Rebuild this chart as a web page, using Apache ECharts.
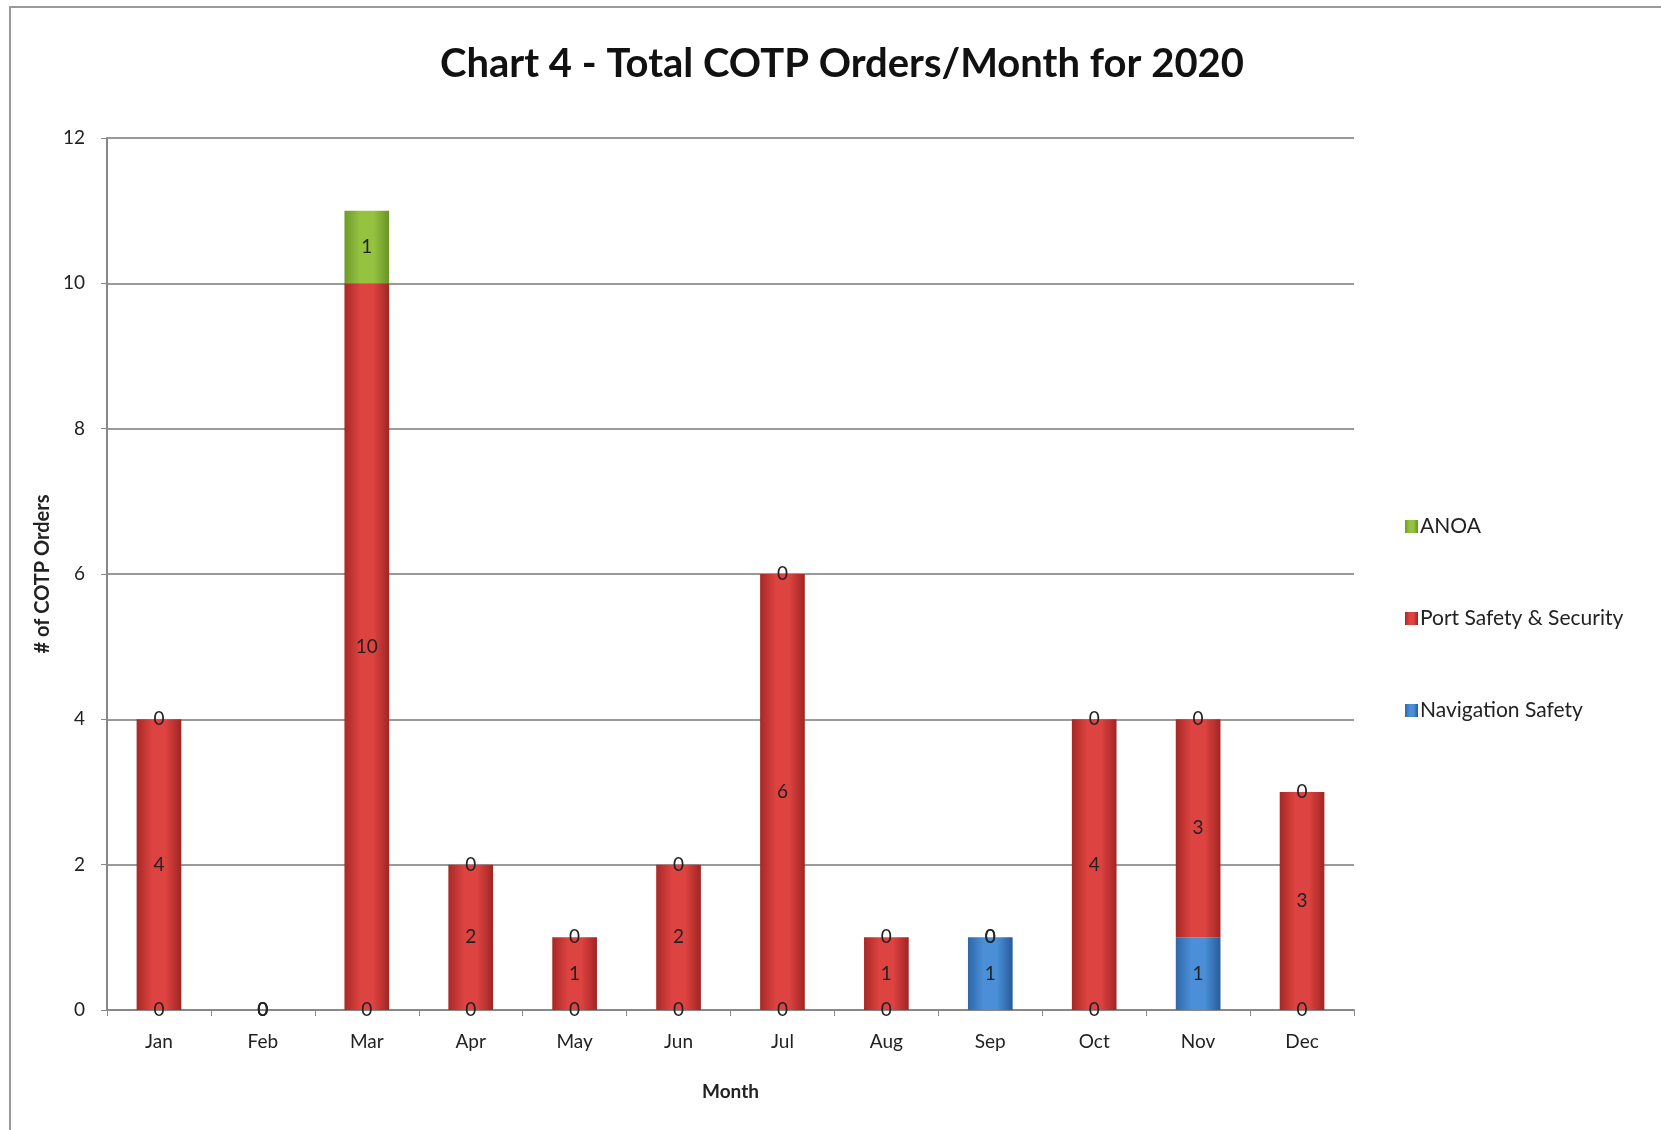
<!DOCTYPE html>
<html>
<head>
<meta charset="utf-8">
<script src="https://cdn.jsdelivr.net/npm/echarts@6/dist/echarts.min.js"></script>
<style>html,body{margin:0;padding:0;background:#fff;}#c{width:1661px;height:1130px;}</style>
</head>
<body>
<div id="c"></div>
<script>
const months = ['Jan','Feb','Mar','Apr','May','Jun','Jul','Aug','Sep','Oct','Nov','Dec'];
const navigationSafety = [0,0,0,0,0,0,0,0,1,0,1,0];
const portSafety = [4,0,10,2,1,2,6,1,0,4,3,3];
const anoa = [0,0,1,0,0,0,0,0,0,0,0,0];

const FONT = 'Lato, "Open Sans", sans-serif';
function grad(c0, c1, c2) {
  return new echarts.graphic.LinearGradient(0, 0, 1, 0, [
    {offset: 0, color: c0}, {offset: 0.35, color: c1}, {offset: 0.65, color: c1}, {offset: 1, color: c2}
  ]);
}
const labelCfg = {show: true, position: 'inside', color: '#222', fontFamily: FONT, fontSize: 19};
const chart = echarts.init(document.getElementById('c'));
chart.setOption({
  animation: false,
  backgroundColor: '#fff',
  title: {
    text: 'Chart 4 - Total COTP Orders/Month for 2020',
    left: 837, top: 39, textAlign: 'center',
    textStyle: {fontFamily: FONT, fontWeight: 'bold', fontSize: 40, color: '#111'}
  },
  graphic: [{type: 'rect', shape: {x: 10, y: 7, width: 1700, height: 1200}, style: {fill: 'none', stroke: '#9a9a9a', lineWidth: 2}, silent: true}],
  legend: {
    orient: 'vertical', left: 1400, top: 511, itemGap: 71, itemWidth: 13, itemHeight: 13,
    icon: 'rect',
    data: ['ANOA', 'Port Safety & Security', 'Navigation Safety'],
    textStyle: {fontFamily: FONT, fontSize: 21, color: '#222', padding: [0,0,0,-3]}
  },
  grid: {left: 107, right: 1661 - 1354, top: 138, bottom: 1130 - 1010, containLabel: false},
  xAxis: {
    type: 'category', data: months,
    name: 'Month', nameLocation: 'middle', nameGap: 72,
    nameTextStyle: {fontFamily: FONT, fontWeight: 'bold', fontSize: 19, color: '#222'},
    axisLine: {lineStyle: {color: '#888', width: 2}},
    axisTick: {show: true, length: 6, lineStyle: {color: '#888'}},
    axisLabel: {fontFamily: FONT, fontSize: 19, color: '#222', margin: 22}
  },
  yAxis: {
    type: 'value', min: 0, max: 12, interval: 2,
    name: '# of COTP Orders', nameLocation: 'middle', nameGap: 52,
    nameTextStyle: {fontFamily: FONT, fontWeight: 'bold', fontSize: 20, color: '#222'},
    axisLine: {show: true, lineStyle: {color: '#888', width: 2}},
    axisTick: {show: true, length: 6, lineStyle: {color: '#888'}},
    axisLabel: {fontFamily: FONT, fontSize: 19, color: '#222', margin: 22},
    splitLine: {lineStyle: {color: '#9a9a9a', width: 2}}
  },
  series: [
    {name: 'Navigation Safety', type: 'bar', stack: 'a', data: navigationSafety, barWidth: '43%',
      itemStyle: {color: grad('#2f67a8', '#4a8fd8', '#285b99')}, label: labelCfg},
    {name: 'Port Safety & Security', type: 'bar', stack: 'a', data: portSafety, barWidth: '43%',
      itemStyle: {color: grad('#a82826', '#dd4340', '#a02523')}, label: labelCfg},
    {name: 'ANOA', type: 'bar', stack: 'a', data: anoa, barWidth: '43%',
      itemStyle: {color: grad('#6f9a2a', '#95c340', '#6a9226')}, label: labelCfg}
  ]
});
</script>
</body>
</html>
